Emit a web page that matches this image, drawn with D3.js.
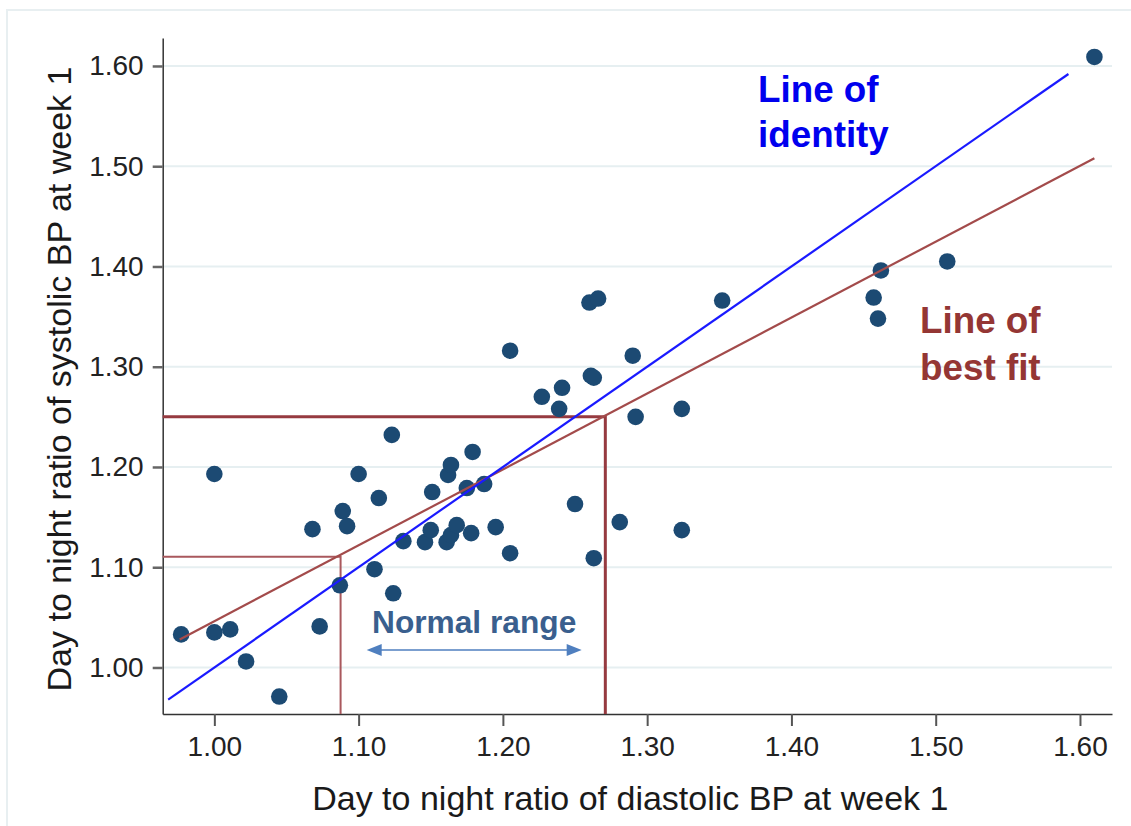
<!DOCTYPE html>
<html>
<head>
<meta charset="utf-8">
<script src="https://cdn.jsdelivr.net/npm/d3@7/dist/d3.min.js"></script>
<style>
  html, body { margin: 0; padding: 0; background: #fff; }
  svg { display: block; font-family: "Liberation Sans", Arial, sans-serif; }
</style>
</head>
<body>
<svg id="chart" width="1131" height="826"></svg>
<script>
// ---- Data ----
const diastolicRatio = [0.977, 1.000, 1.011, 1.022, 1.045, 1.000, 1.073, 1.087, 1.068, 1.089,
  1.092, 1.100, 1.111, 1.114, 1.124, 1.123, 1.131, 1.146, 1.150, 1.151,
  1.161, 1.164, 1.168, 1.162, 1.164, 1.175, 1.178, 1.179, 1.187, 1.195,
  1.205, 1.205, 1.227, 1.239, 1.241, 1.250, 1.261, 1.263, 1.263, 1.260,
  1.266, 1.281, 1.290, 1.292, 1.324, 1.324, 1.352, 1.457, 1.460, 1.462,
  1.508, 1.610];
const systolicRatio = [1.033, 1.035, 1.038, 1.006, 0.971, 1.193, 1.041, 1.082, 1.138, 1.156,
  1.141, 1.193, 1.098, 1.169, 1.074, 1.232, 1.126, 1.125, 1.137, 1.175,
  1.125, 1.132, 1.142, 1.192, 1.202, 1.179, 1.134, 1.215, 1.183, 1.140,
  1.114, 1.316, 1.270, 1.258, 1.279, 1.163, 1.291, 1.289, 1.109, 1.364,
  1.368, 1.145, 1.311, 1.250, 1.258, 1.137, 1.366, 1.369, 1.348, 1.396,
  1.405, 1.609];
const tickValues = [1.00, 1.10, 1.20, 1.30, 1.40, 1.50, 1.60];
const identityLine = [[0.968, 0.968], [1.592, 1.592]];
const bestFitLine = [[0.976, 1.028], [1.610, 1.508]];
const upperRef = { x: 1.271, y: 1.250 };
const lowerRef = { x: 1.0875, y: 1.1105 };
const normalRangeArrow = { x0: 1.1056, x1: 1.2546, y: 1.0175 };
const xTitle = "Day to night ratio of diastolic BP at week 1";
const yTitle = "Day to night ratio of systolic BP at week 1";
const identityLabel = ["Line of", "identity"];
const bestFitLabel = ["Line of", "best fit"];
const normalLabel = "Normal range";

// ---- Layout ----
const svg = d3.select("#chart");
const plot = { left: 162.7, right: 1112, top: 38, bottom: 714 };
const x = d3.scaleLinear().domain([0.9642, 1.6222]).range([plot.left, plot.right]);
const y = d3.scaleLinear().domain([0.9536, 1.6279]).range([plot.bottom, plot.top]);

// outer light frame
svg.append("rect").attr("x", 7).attr("y", 10).attr("width", 1140).attr("height", 830)
  .attr("fill", "none").attr("stroke", "#e8eff1").attr("stroke-width", 2);

// gridlines
svg.append("g").selectAll("line").data(tickValues).join("line")
  .attr("x1", plot.left).attr("x2", plot.right)
  .attr("y1", d => y(d)).attr("y2", d => y(d))
  .attr("stroke", "#e6eff1").attr("stroke-width", 2);

// axes
const xAxis = svg.append("g").attr("transform", `translate(0,${plot.bottom})`)
  .call(d3.axisBottom(x).tickValues(tickValues).tickFormat(d3.format(".2f")).tickSize(12).tickSizeOuter(0).tickPadding(10));
xAxis.select(".domain").attr("stroke", "#333").attr("stroke-width", 1.5);
xAxis.selectAll(".tick line").attr("stroke", "#555").attr("stroke-width", 2);
xAxis.selectAll(".tick text").attr("font-size", 28).attr("fill", "#222")
  .attr("font-family", "Liberation Sans, Arial, sans-serif");

const yAxis = svg.append("g").attr("transform", `translate(${plot.left},0)`)
  .call(d3.axisLeft(y).tickValues(tickValues).tickFormat(d3.format(".2f")).tickSize(10).tickSizeOuter(0).tickPadding(9));
yAxis.select(".domain").attr("stroke", "#333").attr("stroke-width", 1.5);
yAxis.selectAll(".tick line").attr("stroke", "#666").attr("stroke-width", 2.5);
yAxis.selectAll(".tick text").attr("font-size", 28).attr("fill", "#222")
  .attr("font-family", "Liberation Sans, Arial, sans-serif");

// axis titles
svg.append("text").attr("x", (plot.left + plot.right) / 2 - 7).attr("y", 810)
  .attr("text-anchor", "middle").attr("font-size", 34).attr("fill", "#1a1a1a").text(xTitle);
svg.append("text").attr("transform", `translate(71,379) rotate(-90)`)
  .attr("text-anchor", "middle").attr("font-size", 34).attr("fill", "#1a1a1a").text(yTitle);

// reference lines
const refG = svg.append("g").attr("fill", "none");
refG.append("polyline")
  .attr("points", [[plot.left, y(lowerRef.y)], [x(lowerRef.x), y(lowerRef.y)], [x(lowerRef.x), plot.bottom]].join(" "))
  .attr("stroke", "#a9585d").attr("stroke-width", 2);
refG.append("polyline")
  .attr("points", [[plot.left, y(upperRef.y)], [x(upperRef.x), y(upperRef.y)], [x(upperRef.x), plot.bottom]].join(" "))
  .attr("stroke", "#963a40").attr("stroke-width", 3);

// points
svg.append("g").selectAll("circle").data(diastolicRatio.map((d, i) => [d, systolicRatio[i]])).join("circle")
  .attr("cx", d => x(d[0])).attr("cy", d => y(d[1])).attr("r", 8.3)
  .attr("fill", "#1c4a73");

// lines
const lineGen = d3.line().x(d => x(d[0])).y(d => y(d[1]));
svg.append("path").attr("d", lineGen(bestFitLine)).attr("fill", "none")
  .attr("stroke", "#a34b4b").attr("stroke-width", 2.2);
svg.append("path").attr("d", lineGen(identityLine)).attr("fill", "none")
  .attr("stroke", "#1a1aff").attr("stroke-width", 2.2);

// normal range arrow
const ay = y(normalRangeArrow.y), ax0 = x(normalRangeArrow.x0), ax1 = x(normalRangeArrow.x1);
const arrowColor = "#4f7fbf";
svg.append("line").attr("x1", ax0 + 10).attr("x2", ax1 - 10).attr("y1", ay).attr("y2", ay)
  .attr("stroke", arrowColor).attr("stroke-width", 1.5);
svg.append("path").attr("d", `M${ax0},${ay} L${ax0 + 15},${ay - 6} L${ax0 + 15},${ay + 6} Z`).attr("fill", arrowColor);
svg.append("path").attr("d", `M${ax1},${ay} L${ax1 - 15},${ay - 6} L${ax1 - 15},${ay + 6} Z`).attr("fill", arrowColor);
svg.append("text").attr("x", 372).attr("y", 633).attr("font-size", 31.7).attr("font-weight", "bold")
  .attr("fill", "#3a5f8e").text(normalLabel);

// labels
const idT = svg.append("text").attr("font-size", 36.8).attr("font-weight", "bold").attr("fill", "#0000ee");
identityLabel.forEach((t, i) => idT.append("tspan").attr("x", 758).attr("y", 101.7 + i * 45.7).text(t));
const bfT = svg.append("text").attr("font-size", 36.8).attr("font-weight", "bold").attr("fill", "#943634");
bestFitLabel.forEach((t, i) => bfT.append("tspan").attr("x", 920).attr("y", 333.3 + i * 47).text(t));
</script>
</body>
</html>
